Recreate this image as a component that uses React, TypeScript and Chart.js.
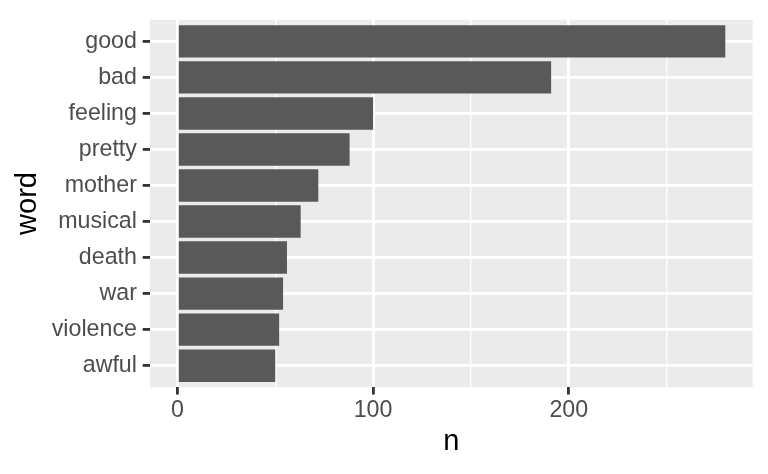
import React, { useEffect, useRef } from "react";
import { Chart, registerables } from "chart.js";

Chart.register(...registerables);

const words = ["good", "bad", "feeling", "pretty", "mother", "musical", "death", "war", "violence", "awful"];
const counts = [280, 191, 100, 88, 72, 63, 56, 54, 52, 50];
const xTicks = [0, 50, 100, 150, 200, 250];
const xMajor = [0, 100, 200];

const FONT = "'Liberation Sans', Arial, Helvetica, sans-serif";
const PT = 2.64;
const MAJOR_W = 0.5 * 2.845 * 0.75 * PT;
const MINOR_W = MAJOR_W / 2;
const TICK_LEN = 2.75 * PT;

const panelBg = {
  id: "panelBg",
  beforeDraw(chart: any) {
    const { ctx, chartArea } = chart;
    ctx.save();
    ctx.fillStyle = "#EBEBEB";
    ctx.fillRect(chartArea.left, chartArea.top, chartArea.right - chartArea.left, chartArea.bottom - chartArea.top);
    ctx.restore();
  },
};

export default function App() {
  const ref = useRef<HTMLCanvasElement | null>(null);

  useEffect(() => {
    document.body.style.margin = "0";
    const canvas = ref.current;
    if (!canvas) return;
    const maxV = Math.max(...counts);
    const chart = new Chart(canvas, {
      type: "bar",
      data: {
        datasets: [
          {
            data: counts.map((v, i) => ({ x: v, y: i })),
            backgroundColor: "#595959",
            borderWidth: 0,
            barPercentage: 0.9,
            categoryPercentage: 1,
          },
        ],
      },
      options: {
        indexAxis: "y",
        responsive: false,
        animation: false,
        layout: { padding: { top: 14.7, right: 15.3, left: 0, bottom: 0 } },
        plugins: { legend: { display: false }, tooltip: { enabled: false } },
        scales: {
          x: {
            type: "linear",
            min: -0.05 * maxV,
            max: 1.05 * maxV,
            offset: false,
            afterBuildTicks: (axis: any) => {
              axis.ticks = xTicks.map((v) => ({ value: v }));
            },
            afterFit: (axis: any) => {
              axis.height = 474 - 387.3;
            },
            border: { display: false },
            grid: {
              offset: false,
              color: "#FFFFFF",
              lineWidth: (c: any) => (xMajor.includes(c.tick?.value) ? MAJOR_W : MINOR_W),
              tickColor: (c: any) => (xMajor.includes(c.tick?.value) ? "#333333" : "rgba(0,0,0,0)"),
              tickWidth: MAJOR_W,
              tickLength: TICK_LEN,
              drawTicks: true,
            },
            ticks: {
              autoSkip: false,
              maxRotation: 0,
              padding: 2,
              color: "#4D4D4D",
              font: { family: FONT, size: 8.8 * PT },
              callback: (v: any) => (xMajor.includes(Number(v)) ? String(v) : ""),
            },
            title: {
              display: true,
              text: "n",
              color: "#000000",
              font: { family: FONT, size: 11 * PT },
              padding: { top: 0, bottom: 14.2 },
            },
          },
          y: {
            type: "linear",
            reverse: true,
            offset: false,
            min: -0.6,
            max: words.length - 1 + 0.6,
            afterBuildTicks: (axis: any) => {
              axis.ticks = words.map((_, i) => ({ value: i }));
            },
            afterFit: (axis: any) => {
              axis.width = 150;
            },
            border: { display: false },
            grid: {
              offset: false,
              color: "#FFFFFF",
              lineWidth: MAJOR_W,
              tickColor: "#333333",
              tickWidth: MAJOR_W,
              tickLength: TICK_LEN,
            },
            ticks: {
              autoSkip: false,
              padding: 2.2 * PT,
              color: "#4D4D4D",
              font: { family: FONT, size: 8.8 * PT },
              callback: (v: any) => words[Number(v)] ?? "",
            },
            title: {
              display: true,
              text: "word",
              color: "#000000",
              font: { family: FONT, size: 11 * PT },
              padding: { top: 11, bottom: 0 },
            },
          },
        },
      },
      plugins: [panelBg],
    } as any);
    return () => chart.destroy();
  }, []);

  return (
    <div style={{ width: 768, height: 474 }}>
      <canvas ref={ref} width={768} height={474} style={{ display: "block" }} />
    </div>
  );
}
